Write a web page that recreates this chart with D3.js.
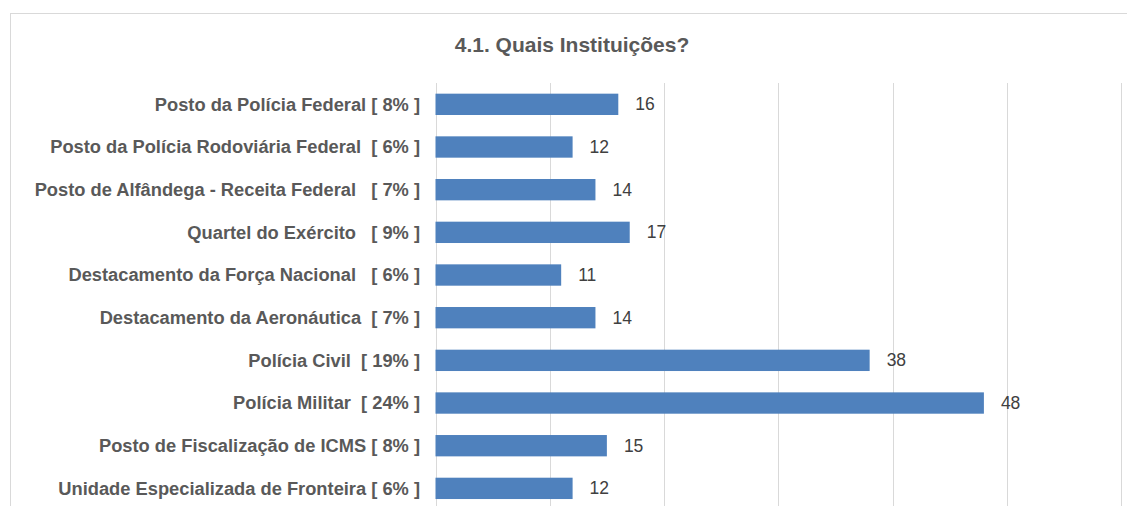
<!DOCTYPE html>
<html><head><meta charset="utf-8">
<script src="https://cdn.jsdelivr.net/npm/d3@7"></script>
<style>body{margin:0;background:#fff}svg{display:block}text{font-family:"Liberation Sans",Arial,sans-serif}</style>
</head><body><svg id="c" width="1127" height="506"></svg>
<script>
const categories = [
  "Posto da Polícia Federal [ 8% ]",
  "Posto da Polícia Rodoviária Federal  [ 6% ]",
  "Posto de Alfândega - Receita Federal   [ 7% ]",
  "Quartel do Exército   [ 9% ]",
  "Destacamento da Força Nacional   [ 6% ]",
  "Destacamento da Aeronáutica  [ 7% ]",
  "Polícia Civil  [ 19% ]",
  "Polícia Militar  [ 24% ]",
  "Posto de Fiscalização de ICMS [ 8% ]",
  "Unidade Especializada de Fronteira [ 6% ]"
];
const values = [16, 12, 14, 17, 11, 14, 38, 48, 15, 12];
const xTicks = [0, 10, 20, 30, 40, 50, 60];
const title = "4.1. Quais Instituições?";

const svg = d3.select("#c");
svg.append("rect").attr("x",10.5).attr("y",13.5).attr("width",1130).attr("height",510)
  .attr("fill","none").attr("stroke","#d9d9d9").attr("stroke-width",1);

svg.append("text").attr("x",572).attr("y",52).attr("text-anchor","middle")
  .attr("font-size","21px").attr("font-weight","bold").attr("fill","#595959").text(title);

const x = d3.scaleLinear().domain([0,60]).range([435.5,1121]);
const y = d3.scaleBand().domain(categories).range([83,509.7]).paddingInner(0.5).paddingOuter(0.25);

const g = svg.append("g");
g.selectAll("line.grid").data(xTicks).join("line").attr("class","grid")
  .attr("x1",d=>Math.round(x(d))+0.5).attr("x2",d=>Math.round(x(d))+0.5)
  .attr("y1",83).attr("y2",510).attr("stroke","#d9d9d9").attr("stroke-width",1);

g.selectAll("rect.bar").data(values).join("rect").attr("class","bar")
  .attr("x",x(0)).attr("y",(d,i)=>y(categories[i]))
  .attr("width",d=>x(d)-x(0)).attr("height",y.bandwidth())
  .attr("fill","#4f81bd");

g.selectAll("text.val").data(values).join("text").attr("class","val")
  .attr("x",d=>x(d)+17).attr("y",(d,i)=>y(categories[i])+y.bandwidth()/2)
  .attr("dy","0.35em").attr("font-size","17.5px").attr("fill","#404040").text(d=>d);

g.selectAll("text.cat").data(categories).join("text").attr("class","cat")
  .attr("x",420).attr("y",d=>y(d)+y.bandwidth()/2).attr("dy","0.35em")
  .attr("text-anchor","end").attr("font-size","18.3px").attr("font-weight","bold")
  .attr("fill","#595959").style("white-space","pre").text(d=>d);
</script></body></html>
